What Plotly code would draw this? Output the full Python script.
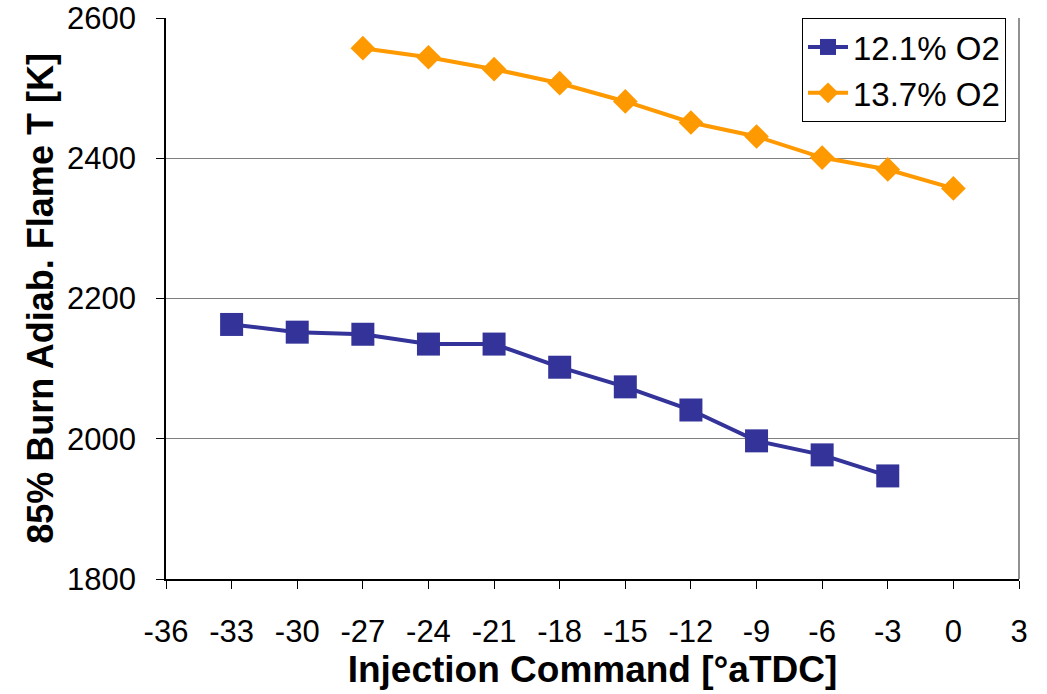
import plotly.graph_objects as go

x_low = [-33, -30, -27, -24, -21, -18, -15, -12, -9, -6, -3]
y_low = [2163, 2152, 2149, 2135, 2135, 2102, 2074, 2041, 1997, 1977, 1947]
x_high = [-27, -24, -21, -18, -15, -12, -9, -6, -3, 0]
y_high = [2557, 2544, 2527, 2507, 2481, 2451, 2431, 2401, 2384, 2357]
x_ticks = list(range(-36, 4, 3))
x_ticktext = [str(v) for v in x_ticks]
y_ticks = [1800, 2000, 2200, 2400, 2600]

fig = go.Figure()
fig.add_trace(go.Scatter(x=x_low, y=y_low, mode="lines+markers", name="12.1% O2",
                         line=dict(color="#333399", width=4),
                         marker=dict(symbol="square", size=23, color="#333399")))
fig.add_trace(go.Scatter(x=x_high, y=y_high, mode="lines+markers", name="13.7% O2",
                         line=dict(color="#FF9900", width=4),
                         marker=dict(symbol="diamond", size=19, color="#FF9900")))

font_family = "Liberation Sans, Arial, sans-serif"
fig.update_layout(
    width=1047, height=694,
    margin=dict(l=166, r=28, t=18, b=115),
    paper_bgcolor="white", plot_bgcolor="white",
    font=dict(family=font_family, size=31, color="black"),
    showlegend=True,
    legend=dict(x=0.7456, y=1.0, xanchor="left", yanchor="top",
                bordercolor="black", borderwidth=1, bgcolor="white",
                font=dict(size=33), tracegroupgap=0, itemwidth=40),
    xaxis=dict(range=[-36, 3], tickvals=x_ticks, ticktext=x_ticktext, ticks="outside", ticklen=8,
               tickcolor="black", showline=True, linecolor="black", linewidth=1.5,
               showgrid=False, zeroline=False, mirror=False, automargin=False,
               tickfont=dict(size=31), ticklabelstandoff=16,
               title=dict(text="<b>Injection Command [°aTDC]</b>", font=dict(size=37), standoff=1)),
    yaxis=dict(range=[1800, 2600], tickvals=y_ticks, ticks="outside", ticklen=8,
               tickcolor="black", showline=True, linecolor="black", linewidth=1.5,
               showgrid=True, gridcolor="#808080", gridwidth=1, zeroline=False,
               automargin=False, ticklabelstandoff=14,
               tickfont=dict(size=31),
               title=dict(text="<b>85% Burn Adiab. Flame T [K]</b>", font=dict(size=36), standoff=2)),
)
fig.add_shape(type="line", xref="paper", yref="paper", x0=1, x1=1, y0=0, y1=1,
              line=dict(color="#909090", width=2), layer="below")

fig.write_html("out.html")
